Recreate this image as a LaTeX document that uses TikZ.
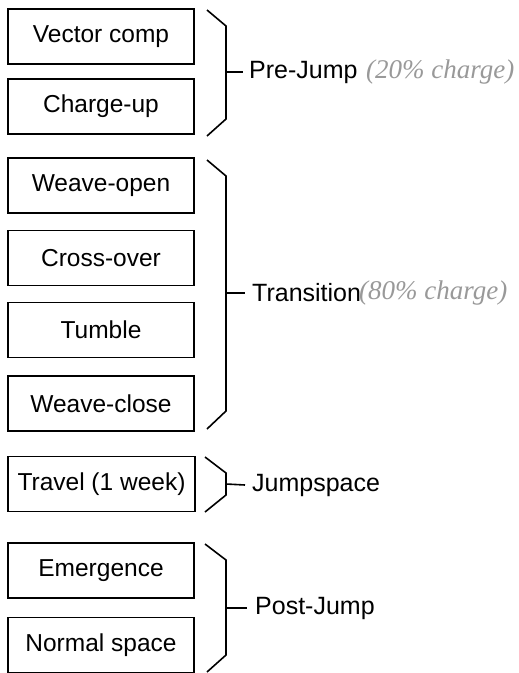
\documentclass[tikz,border=0pt]{standalone}
\usepackage{fontspec}
\setmainfont{Liberation Sans}
\newfontfamily\handfont{Liberation Serif}
\begin{document}
\begin{tikzpicture}[x=1pt,y=-1pt,
  stage/.style={draw, line width=1.4pt, minimum width=186pt, minimum height=55pt, inner sep=0pt, font=\fontsize{24.5}{28}\selectfont},
  brace/.style={line width=1.6pt, line join=miter},
  grp/.style={anchor=west, inner sep=0pt, font=\fontsize{25}{30}\selectfont},
  hand/.style={anchor=west, inner sep=0pt, text=black!40, font=\handfont\itshape\fontsize{27}{32}\selectfont}]
\useasboundingbox (0,0) rectangle (519,673);
% stage boxes
\node[stage] (b1) at (101,36.5) {Vector comp};
\node[stage] (b2) at (101,106.5) {Charge-up};
\node[stage] (b3) at (101,185.5) {Weave-open};
\node[stage] (b4) at (101,258) {Cross-over};
\node[stage] (b5) at (101,330) {Tumble};
\node[stage] (b6) at (101,403.5) {Weave-close};
\node[stage, minimum width=187pt] (b7) at (101.5,484) {Travel (1 week)};
\node[stage] (b8) at (101,570.5) {Emergence};
\node[stage] (b9) at (101,645) {Normal space};
% group braces
\coordinate (p1) at (226,72);
\draw[brace] (207,10) -- (226,26) -- (226,119) -- (207,136);
\coordinate (p2) at (226,293);
\draw[brace] (207,160) -- (226,176) -- (226,411) -- (207,429);
\coordinate (p3) at (226,484);
\draw[brace] (205,457) -- (226,473) -- (226,495) -- (205,512);
\coordinate (p4) at (226,608);
\draw[brace] (205,544) -- (226,560) -- (226,655) -- (207,672);
% labels
\node[grp] (g1) at (249,72) {Pre-Jump};
\node[grp] (g2) at (252,293) {Transition};
\node[grp] (g3) at (252,485) {Jumpspace};
\node[grp] (g4) at (255,608) {Post-Jump};
\draw[brace] (p1) -- ([xshift=-6pt]g1.west);
\draw[brace] (p2) -- ([xshift=-7pt]g2.west);
\draw[brace] (p3) -- ([xshift=-7pt]g3.west);
\draw[brace] (p4) -- ([xshift=-8pt]g4.west);
% handwritten notes
\node[hand] (h1) at (366,72) {(20\% charge)};
\node[hand] (h2) at (359,293) {(80\% charge)};
\end{tikzpicture}
\end{document}
